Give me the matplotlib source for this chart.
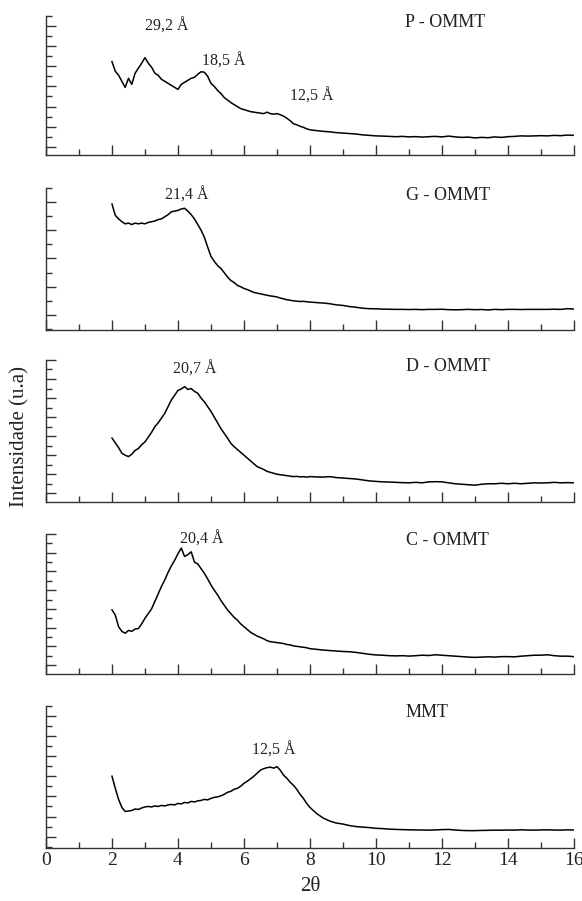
import numpy as np
import matplotlib
matplotlib.use("Agg")
import matplotlib.pyplot as plt
from matplotlib.ticker import MultipleLocator

plt.rcParams['font.family'] = ['Liberation Serif', 'DejaVu Serif']

# Sampling grid of 2-theta (deg): fine up to 8, coarser on the flat tail
theta = np.round(np.concatenate([np.arange(2.0, 8.01, 0.1), np.arange(8.2, 16.01, 0.2)]), 2)

# Intensities (a.u.)
p_ommt = [8.45, 7.5, 7.1, 6.5, 5.9, 6.8, 6.2, 7.3, 7.8, 8.3,
          8.85, 8.3, 7.9, 7.3, 7.1, 6.7, 6.5, 6.3, 6.1, 5.9,
          5.7, 6.2, 6.4, 6.6, 6.8, 6.9, 7.2, 7.45, 7.4, 7.0,
          6.3, 6.0, 5.6, 5.3, 4.9, 4.65, 4.4, 4.2, 4.0, 3.8,
          3.7, 3.6, 3.5, 3.45, 3.4, 3.35, 3.3, 3.45, 3.3, 3.25,
          3.3, 3.2, 3.05, 2.85, 2.6, 2.3, 2.2, 2.05, 1.95, 1.8,
          1.7,
          1.62, 1.55, 1.5, 1.42, 1.38, 1.33, 1.28, 1.2, 1.15, 1.1,
          1.08, 1.05, 1.02, 1.05, 1.0, 1.03, 0.98, 1.02, 1.05, 1.0,
          1.08, 1.0, 0.95, 0.98, 0.9, 0.95, 0.92, 1.0, 0.95, 1.02,
          1.05, 1.1, 1.08, 1.1, 1.12, 1.1, 1.15, 1.12, 1.18, 1.15]

g_ommt = [7.85, 7.05, 6.8, 6.6, 6.45, 6.5, 6.4, 6.5, 6.45, 6.5,
          6.45, 6.55, 6.6, 6.65, 6.75, 6.8, 6.95, 7.1, 7.3, 7.35,
          7.4, 7.5, 7.55, 7.35, 7.1, 6.8, 6.4, 6.0, 5.5, 4.8,
          4.15, 3.8, 3.5, 3.3, 3.0, 2.7, 2.45, 2.3, 2.1, 2.0,
          1.88, 1.8, 1.7, 1.6, 1.55, 1.5, 1.45, 1.4, 1.35, 1.32,
          1.28, 1.2, 1.15, 1.08, 1.05, 1.0, 0.98, 0.96, 0.97, 0.94,
          0.92,
          0.88, 0.85, 0.8, 0.72, 0.68, 0.6, 0.55, 0.48, 0.45, 0.44,
          0.42, 0.41, 0.4, 0.4, 0.39, 0.4, 0.38, 0.4, 0.4, 0.41,
          0.38, 0.37, 0.38, 0.4, 0.38, 0.39, 0.36, 0.4, 0.38, 0.4,
          0.4, 0.39, 0.4, 0.4, 0.4, 0.4, 0.41, 0.4, 0.45, 0.42]

d_ommt = [5.8, 5.3, 4.8, 4.2, 4.0, 3.85, 4.1, 4.5, 4.7, 5.1,
          5.4, 5.9, 6.4, 7.0, 7.4, 7.9, 8.4, 9.1, 9.8, 10.3,
          10.8, 10.95, 11.2, 10.9, 11.0, 10.7, 10.5, 10.0, 9.6, 9.1,
          8.6, 8.0, 7.4, 6.8, 6.3, 5.8, 5.25, 4.9, 4.6, 4.3,
          4.0, 3.7, 3.4, 3.1, 2.8, 2.65, 2.5, 2.3, 2.2, 2.1,
          2.0, 1.95, 1.9, 1.85, 1.8, 1.75, 1.78, 1.72, 1.75, 1.7,
          1.75,
          1.72, 1.7, 1.75, 1.65, 1.6, 1.55, 1.5, 1.4, 1.3, 1.25,
          1.2, 1.18, 1.15, 1.12, 1.1, 1.15, 1.1, 1.2, 1.22, 1.2,
          1.1, 1.0, 0.95, 0.9, 0.85, 0.95, 1.0, 1.0, 1.05, 1.0,
          1.05, 1.0, 1.05, 1.1, 1.08, 1.1, 1.15, 1.1, 1.12, 1.1]

c_ommt = [5.9, 5.35, 4.1, 3.6, 3.4, 3.7, 3.6, 3.85, 3.9, 4.4,
          5.0, 5.5, 6.0, 6.8, 7.6, 8.4, 9.1, 9.9, 10.6, 11.2,
          11.9, 12.5, 11.6, 11.8, 12.1, 11.0, 10.8, 10.3, 9.8, 9.2,
          8.55, 8.0, 7.5, 6.9, 6.4, 5.9, 5.5, 5.1, 4.8, 4.4,
          4.1, 3.8, 3.5, 3.3, 3.1, 2.95, 2.8, 2.6, 2.5, 2.45,
          2.4, 2.35, 2.3, 2.2, 2.15, 2.05, 2.0, 1.95, 1.9, 1.85,
          1.75,
          1.68, 1.6, 1.55, 1.5, 1.45, 1.42, 1.35, 1.25, 1.15, 1.08,
          1.05, 1.0, 0.98, 1.0, 0.96, 1.0, 1.05, 1.02, 1.1, 1.05,
          1.0, 0.95, 0.9, 0.85, 0.82, 0.85, 0.88, 0.85, 0.9, 0.9,
          0.88, 0.95, 1.0, 1.05, 1.05, 1.1, 1.0, 0.95, 0.95, 0.9]

mmt = [6.0, 4.8, 3.7, 2.9, 2.5, 2.55, 2.6, 2.75, 2.7, 2.85,
       2.95, 3.0, 2.95, 3.05, 3.0, 3.1, 3.05, 3.15, 3.2, 3.15,
       3.3, 3.25, 3.4, 3.35, 3.5, 3.45, 3.55, 3.6, 3.7, 3.65,
       3.8, 3.9, 3.95, 4.05, 4.2, 4.4, 4.5, 4.7, 4.8, 5.0,
       5.3, 5.5, 5.75, 6.0, 6.3, 6.6, 6.75, 6.85, 6.9, 6.8,
       6.95, 6.6, 6.1, 5.8, 5.4, 5.1, 4.7, 4.2, 3.8, 3.3,
       2.9,
       2.3, 1.85, 1.55, 1.35, 1.25, 1.1, 1.0, 0.95, 0.9, 0.83,
       0.8, 0.75, 0.72, 0.7, 0.68, 0.67, 0.66, 0.65, 0.67, 0.7,
       0.72, 0.66, 0.62, 0.6, 0.6, 0.62, 0.63, 0.65, 0.64, 0.66,
       0.65, 0.68, 0.66, 0.65, 0.67, 0.68, 0.66, 0.65, 0.68, 0.66]

samples = ["P - OMMT", "G - OMMT", "D - OMMT", "C - OMMT", "MMT"]
curves = [p_ommt, g_ommt, d_ommt, c_ommt, mmt]

# Basal spacing annotations: (2theta, intensity, text) per panel
peak_labels = [
    [(3.67, 11.9, "29,2 Å"), (5.4, 8.5, "18,5 Å"), (8.05, 5.0, "12,5 Å")],
    [(4.26, 8.45, "21,4 Å")],
    [(4.52, 12.95, "20,7 Å")],
    [(4.73, 13.43, "20,4 Å")],
    [(6.9, 8.53, "12,5 Å")],
]
sample_label_pos = [(12.1, 12.3), (12.17, 8.45), (12.17, 13.3), (12.17, 13.28), (11.56, 12.3)]

# Panel layout (figure fractions) and y-limits of each intensity scale
panel_boxes = [(0.8280, 0.1546), (0.6337, 0.1579), (0.4432, 0.1573), (0.2519, 0.1554), (0.0592, 0.1576)]
y_limits = [(-0.79, 13), (-1.06, 9), (-0.88, 14), (-0.96, 14), (-1.09, 13)]


def main():
    fig = plt.figure(figsize=(5.82, 9.01), dpi=100)
    axis_color = "#333333"

    for i, name in enumerate(samples):
        bottom, height = panel_boxes[i]
        ax = fig.add_axes([0.079, bottom, 0.9072, height])

        ax.plot(theta, curves[i], color="black", linewidth=1.1)

        ax.set_xlim(0, 16)
        ax.set_ylim(*y_limits[i])

        # Only left and bottom frame lines
        ax.spines['top'].set_visible(False)
        ax.spines['right'].set_visible(False)
        for s in ['left', 'bottom']:
            ax.spines[s].set_color(axis_color)
            ax.spines[s].set_linewidth(1.0)

        ax.xaxis.set_major_locator(MultipleLocator(2))
        ax.xaxis.set_minor_locator(MultipleLocator(1))
        ax.yaxis.set_major_locator(MultipleLocator(2))
        ax.yaxis.set_minor_locator(MultipleLocator(1))
        ax.tick_params(which='major', direction='in', length=7.5, width=1.0, color=axis_color)
        ax.tick_params(which='minor', direction='in', length=4, width=1.0, color=axis_color)
        ax.tick_params(axis='y', which='both', labelleft=False)

        if i < len(samples) - 1:
            ax.tick_params(axis='x', which='both', labelbottom=False)
        else:
            ax.tick_params(axis='x', which='major', labelsize=14, pad=3, labelcolor="#222222")
            ax.set_xlabel("2θ", fontsize=15, labelpad=6, color="#222222")

        for x, y, txt in peak_labels[i]:
            ax.text(x, y, txt, ha="center", va="center", fontsize=11.5, color="#222222")
        lx, ly = sample_label_pos[i]
        ax.text(lx, ly, name, ha="center", va="center", fontsize=13, color="#222222")

    fig.text(0.034, 0.515, "Intensidade (u.a)", rotation=90, ha="center", va="center",
             fontsize=15, color="#222222")

    fig.savefig("out.png", dpi=100)
    plt.close(fig)


if __name__ == "__main__":
    main()
